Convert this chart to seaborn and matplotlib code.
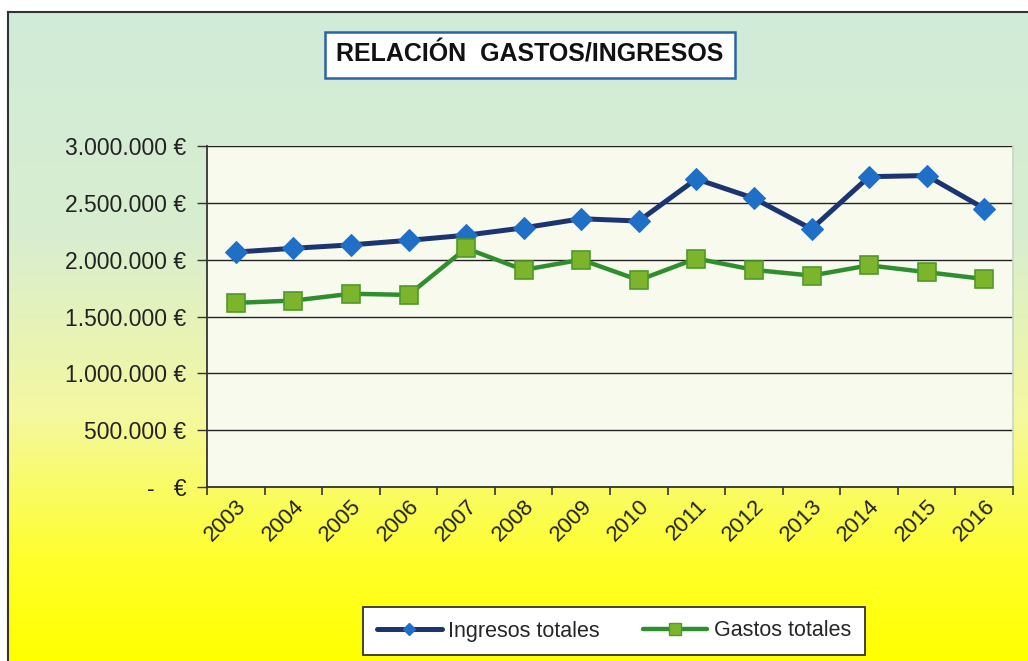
import numpy as np
import pandas as pd
import matplotlib
matplotlib.use("Agg")
import matplotlib.pyplot as plt
from matplotlib.colors import LinearSegmentedColormap
from matplotlib.lines import Line2D
from matplotlib.ticker import FuncFormatter, MultipleLocator
import seaborn as sns

years = [str(y) for y in range(2003, 2017)]
ingresos = [2067000, 2100000, 2130000, 2170000, 2215000, 2280000, 2360000,
            2340000, 2710000, 2540000, 2270000, 2730000, 2740000, 2450000]
gastos = [1620000, 1640000, 1700000, 1690000, 2100000, 1910000, 2000000,
          1820000, 2010000, 1910000, 1860000, 1950000, 1890000, 1830000]

sns.set_theme(style="white")
plt.rcParams["font.family"] = ["Liberation Sans", "DejaVu Sans"]

df = pd.DataFrame({"year": years, "Ingresos totales": ingresos, "Gastos totales": gastos})

W, H = 1028, 661
fig = plt.figure(figsize=(W / 100, H / 100), dpi=100, facecolor="white")

# gradient background of the chart area
bg = fig.add_axes([8 / W, 0, 1 - 8 / W, (H - 12) / H], zorder=-5)
cmap = LinearSegmentedColormap.from_list(
    "bg", [(0.0, "#d0ebd9"), (0.35, "#d9eecf"), (0.62, "#f4f8a0"), (0.85, "#ffff2a"), (1.0, "#ffff00")])
grad = np.linspace(0, 1, 256).reshape(-1, 1)
bg.imshow(grad, aspect="auto", cmap=cmap, extent=[0, 1, 0, 1])
bg.set_xticks([])
bg.set_yticks([])
for s in ["top", "left"]:
    bg.spines[s].set_color("#333333")
    bg.spines[s].set_linewidth(1.5)
for s in ["right", "bottom"]:
    bg.spines[s].set_visible(False)

ax = fig.add_axes([207 / W, 1 - 487 / H, (1013 - 207) / W, (487 - 146) / H])
ax.set_facecolor("#f8faee")

sns.lineplot(data=df, x="year", y="Ingresos totales", ax=ax, color="#1c3570",
             linewidth=3.6, marker="D", markersize=11, markerfacecolor="#1f6fc6",
             markeredgecolor="#1f6fc6", zorder=4)
sns.lineplot(data=df, x="year", y="Gastos totales", ax=ax, color="#2f8f2f",
             linewidth=3.2, marker="s", markersize=13, markerfacecolor="#7cb52c",
             markeredgecolor="#4e9a2a", markeredgewidth=1.2, zorder=5)

ax.set_xlim(-0.5, len(years) - 0.5)
ax.set_ylim(0, 3000000)
ax.yaxis.set_major_locator(MultipleLocator(500000))


def euro(v, pos):
    if v == 0:
        return "-   €"
    return f"{int(v):,} €".replace(",", ".")


ax.yaxis.set_major_formatter(FuncFormatter(euro))
ax.grid(axis="y", color="#222222", linewidth=1.0)
ax.set_axisbelow(True)

ax.set_xticks(np.arange(len(years)))
ax.set_xticklabels(years, rotation=45, ha="right", rotation_mode="anchor")
ax.set_xticks(np.arange(len(years) + 1) - 0.5, minor=True)
ax.tick_params(axis="x", which="major", length=0, labelsize=16, pad=6, colors="#222222")
ax.tick_params(axis="x", which="minor", length=6, width=1.2, color="#333333", direction="out", bottom=True)
ax.tick_params(axis="y", length=7, width=1.0, color="#333333", labelsize=16.5, pad=8,
               direction="out", left=True, colors="#222222")
ax.set_xlabel("")
ax.set_ylabel("")
for s in ["left", "bottom"]:
    ax.spines[s].set_color("#333333")
    ax.spines[s].set_linewidth(1.3)
ax.spines["right"].set_color("#c8d8c8")
ax.spines["top"].set_visible(False)
if ax.get_legend():
    ax.get_legend().remove()

# title box
fig.text(530 / W, 1 - 55 / H, "RELACIÓN  GASTOS/INGRESOS", ha="center", va="center",
         fontsize=18, fontweight="bold", color="#111111",
         bbox=dict(boxstyle="square,pad=0.45", facecolor="white", edgecolor="#2a64a8", linewidth=1.8))

handles = [
    Line2D([], [], color="#1c3570", linewidth=3.6, marker="D", markersize=6,
           markerfacecolor="#1f6fc6", markeredgecolor="#1f6fc6"),
    Line2D([], [], color="#2f8f2f", linewidth=3.2, marker="s", markersize=8,
           markerfacecolor="#7cb52c", markeredgecolor="#4e9a2a"),
]
leg = fig.legend(handles, ["Ingresos totales", "Gastos totales"], loc="center",
                 bbox_to_anchor=(614 / W, 1 - 631 / H), ncol=2, fontsize=15.5, frameon=True,
                 fancybox=False, edgecolor="#333333", handlelength=3.0, handletextpad=0.3,
                 columnspacing=2.0, borderpad=0.65)
leg.get_frame().set_linewidth(1.3)
leg.get_frame().set_facecolor("white")
leg.get_frame().set_alpha(1)

fig.savefig("out.png", dpi=100, facecolor="white")
